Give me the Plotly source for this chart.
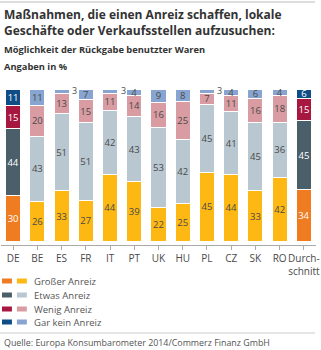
import plotly.graph_objects as go

categories = ["DE", "BE", "ES", "FR", "IT", "PT", "UK", "HU", "PL", "CZ", "SK", "RO", "Durch-<br>schnitt"]
grosser = [30, 26, 33, 27, 44, 39, 22, 25, 45, 44, 33, 42, 34]
etwas = [44, 43, 51, 51, 42, 43, 53, 42, 45, 41, 45, 36, 45]
wenig = [15, 20, 13, 15, 11, 14, 16, 25, 7, 11, 16, 18, 15]
garkein = [11, 11, 3, 7, 3, 4, 9, 8, 3, 4, 6, 4, 6]
highlight = [True] + [False] * 11 + [True]

series = [
    ("Großer Anreiz", grosser, "#F07C22", "#FDB813"),
    ("Etwas Anreiz", etwas, "#4B5F6B", "#B8C7D0"),
    ("Wenig Anreiz", wenig, "#A8173F", "#D89CA2"),
    ("Gar kein Anreiz", garkein, "#0E4D86", "#87A5D0"),
]

W, H = 321, 350
ML, MR, MT, MB = 1, 3, 89, 105
PW, PH = W - ML - MR, H - MT - MB
FONT = "Open Sans"

def px(x):
    return (x - ML) / PW

def py(y):
    return (H - MB - y) / PH

fig = go.Figure()
annotations = []
cum = [0] * len(categories)
for name, vals, dark, light in series:
    colors = [dark if h else light for h in highlight]
    tcolors = ["white" if h else "#4a4a4a" for h in highlight]
    texts = [str(v) if v > 3 else "" for v in vals]
    fig.add_trace(go.Bar(
        x=list(range(len(categories))), y=vals, name=name,
        marker=dict(color=colors, line=dict(color="white", width=1)),
        text=texts, textposition="inside", insidetextanchor="middle",
        textangle=0, constraintext="none",
        textfont=dict(color=tcolors, size=9.5, family=FONT),
        hoverinfo="skip", showlegend=False,
    ))
    for i, v in enumerate(vals):
        if v <= 3:
            annotations.append(dict(
                x=i + 0.31, y=cum[i] + v / 2 + 0.5, xref="x", yref="y", text=str(v),
                showarrow=False, xanchor="left", yanchor="middle", xshift=1,
                font=dict(size=9, color="#4a4a4a", family=FONT)))
        cum[i] += v

shapes = []
shapes.append(dict(type="line", xref="paper", yref="paper", x0=px(0), x1=px(317),
                   y0=py(2), y1=py(2), line=dict(color="#BBBBBB", width=1.2)))
shapes.append(dict(type="line", xref="paper", yref="paper", x0=px(0), x1=px(317),
                   y0=py(333), y1=py(333), line=dict(color="#CCCCCC", width=1)))

leg_y = [281, 295, 309, 322]
for (name, vals, dark, light), yy in zip(series, leg_y):
    shapes.append(dict(type="rect", xref="paper", yref="paper", x0=px(2), x1=px(12),
                       y0=py(yy - 2.5), y1=py(yy + 2.5), fillcolor=dark, line=dict(width=0)))
    shapes.append(dict(type="rect", xref="paper", yref="paper", x0=px(17), x1=px(27),
                       y0=py(yy - 2.5), y1=py(yy + 2.5), fillcolor=light, line=dict(width=0)))
    annotations.append(dict(x=px(32), y=py(yy), xref="paper", yref="paper", text=name,
                            showarrow=False, xanchor="left", yanchor="middle",
                            font=dict(size=9.5, color="#555555", family=FONT)))

annotations.append(dict(x=px(2), y=py(23), xref="paper", yref="paper",
                        text="<b>Maßnahmen, die einen Anreiz schaffen, lokale<br>Geschäfte oder Verkaufsstellen aufzusuchen:</b>",
                        showarrow=False, xanchor="left", yanchor="middle", align="left",
                        font=dict(size=12, color="#333333", family=FONT)))
annotations.append(dict(x=px(2), y=py(49), xref="paper", yref="paper",
                        text="<b>Möglichkeit der Rückgabe benutzter Waren</b>",
                        showarrow=False, xanchor="left", yanchor="middle",
                        font=dict(size=9.3, color="#333333", family=FONT)))
annotations.append(dict(x=px(2), y=py(66), xref="paper", yref="paper",
                        text="<b>Angaben in %</b>",
                        showarrow=False, xanchor="left", yanchor="middle",
                        font=dict(size=9.3, color="#333333", family=FONT)))
annotations.append(dict(x=px(2), y=py(342), xref="paper", yref="paper",
                        text="Quelle: Europa Konsumbarometer 2014/Commerz Finanz GmbH",
                        showarrow=False, xanchor="left", yanchor="middle",
                        font=dict(size=8.9, color="#555555", family=FONT)))

fig.update_layout(
    width=W, height=H, margin=dict(l=ML, r=MR, t=MT, b=MB),
    barmode="stack", bargap=0.38,
    paper_bgcolor="white", plot_bgcolor="white",
    shapes=shapes, annotations=annotations,
    xaxis=dict(tickmode="array", tickvals=list(range(len(categories))), ticktext=categories,
               range=[-0.5, len(categories) - 0.5], showline=True, linecolor="#AAAAAA",
               linewidth=1, ticks="outside", tickson="boundaries", ticklen=4,
               tickcolor="#AAAAAA", showgrid=False, zeroline=False,
               ticklabeloverflow="allow", tickangle=0,
               tickfont=dict(size=10, color="#4a4a4a", family=FONT), fixedrange=True),
    yaxis=dict(range=[-2.5, 100], visible=False, fixedrange=True),
    font=dict(family=FONT),
)

fig.write_html("out.html", config={"displayModeBar": False})
